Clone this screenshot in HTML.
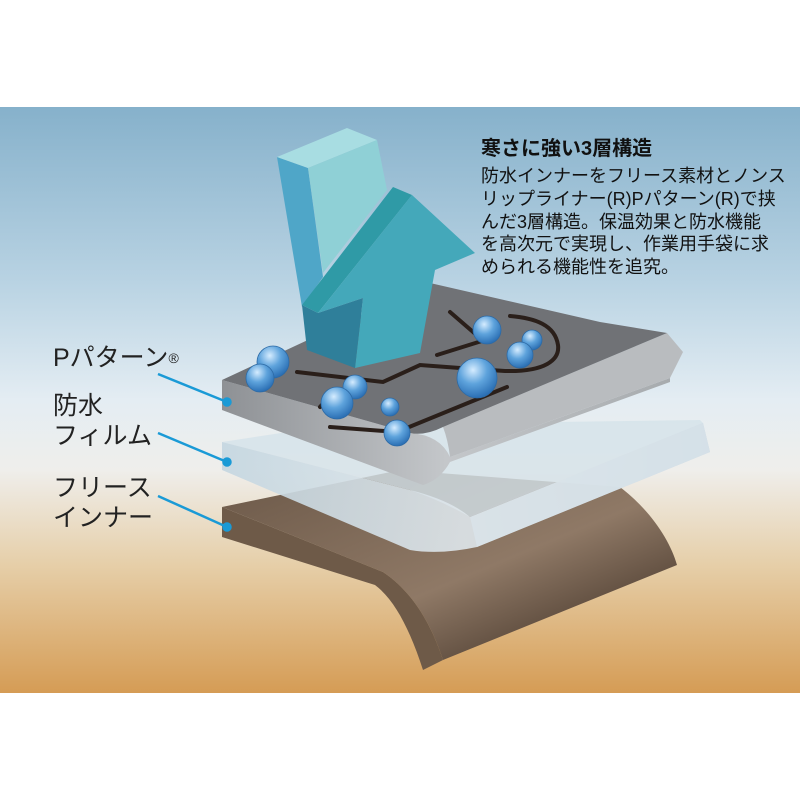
<!DOCTYPE html>
<html><head><meta charset="utf-8"><style>
html,body{margin:0;padding:0;background:#fff;}
body{width:800px;height:800px;position:relative;overflow:hidden;font-family:"Liberation Sans","Noto Sans CJK JP",sans-serif;}
.bg{position:absolute;left:0;top:107px;width:800px;height:586px;background:linear-gradient(to bottom,#86b1cb 0%,#b9d3e3 30%,#e4edf3 50%,#efeeeb 62%,#e6cfa9 78%,#d59c55 100%);}
svg{position:absolute;left:0;top:0;}
.t{position:absolute;color:#111;white-space:nowrap;}
.lab{position:absolute;font-size:25px;color:#222;line-height:30px;white-space:nowrap;}
</style></head><body>
<div class="bg"></div>
<svg width="800" height="800" viewBox="0 0 800 800">
<defs>
<linearGradient id="br" x1="0" y1="0" x2="1" y2="1"><stop offset="0" stop-color="#6b5848"/><stop offset="0.55" stop-color="#8f7966"/><stop offset="1" stop-color="#32241a"/></linearGradient>
<linearGradient id="gr" x1="0" y1="0" x2="1" y2="0"><stop offset="0" stop-color="#8e9195"/><stop offset="0.5" stop-color="#c4c7ca"/><stop offset="1" stop-color="#a7abae"/></linearGradient>
<linearGradient id="fl" x1="0" y1="0" x2="1" y2="0"><stop offset="0" stop-color="#c4d6e0"/><stop offset="0.5" stop-color="#dfe7ec"/><stop offset="1" stop-color="#bcd0dc"/></linearGradient>
<radialGradient id="dr" cx="0.4" cy="0.3" r="0.7"><stop offset="0" stop-color="#d5ecff"/><stop offset="0.5" stop-color="#5ea3dc"/><stop offset="1" stop-color="#2b6fb4"/></radialGradient>
</defs>
<!-- brown fleece -->
<path d="M222,507 L400,470 L620,487 C650,510 670,540 677,565 L443,660 C430,620 410,590 383,572 Z" fill="url(#br)"/>
<path d="M222,507 L383,572 C410,590 430,620 443,660 L423,670 C410,630 395,600 375,585 L222,537 Z" fill="#6e5a48"/>
<!-- film -->
<path d="M222,442 L333,425 L700,420 L703,423 L470,517 Q440,500 410,490 Z" fill="#d4e2ea" opacity="0.8"/>
<path d="M222,442 L410,490 Q450,500 470,517 L703,423 L710,452 L477,547 Q440,555 410,550 L222,470 Z" fill="url(#fl)" opacity="0.9"/>
<path d="M470,517 L703,423 L710,452 L477,547 Z" fill="#d9e4ea" opacity="0.8"/>
<!-- gray layer -->
<path d="M222,380 L410,433 Q440,435 450,457 L670,378 L670,382 L450,462 Q440,480 423,485 L222,410 Z" fill="url(#gr)"/>
<path d="M443,427 L667,333 L683,352 L670,378 L450,457 Q448,440 443,427 Z" fill="#b9bcbf"/>
<path d="M222,380 L430,283 L600,322 L667,333 L443,427 Q425,436 410,433 Z" fill="#707276"/>
<!-- grooves -->
<g fill="none" stroke="#2a1f1a" stroke-width="4" stroke-linecap="round">
<path d="M297,372 L383,382 L420,365 L460,368 L505,371 C545,372 560,360 558,345 C555,325 535,318 510,316"/>
<path d="M450,312 L480,338"/>
<path d="M437,355 L485,340"/>
<path d="M330,427 L397,432 L507,387"/>
<path d="M320,407 L328,398"/>
</g>
<!-- arrow -->
<path d="M277,157 L308,168 L323,277 L302,307 Z" fill="#4fa6c8"/>
<path d="M277,157 L347,128 L377,140 L308,168 Z" fill="#a8dde2"/>
<path d="M308,168 L377,140 L387,190 L323,273 Z" fill="#8fd0d6"/>
<path d="M302,305 L393,187 L412,195 L318,313 Z" fill="#2f9aa6"/>
<path d="M412,195 L475,253 L435,270 L420,353 L355,368 L363,298 L318,313 Z" fill="#44a8ba"/>
<path d="M302,305 L318,313 L363,298 L355,368 L307,350 Z" fill="#2f7f9a"/>
<!-- drops -->
<g fill="url(#dr)" stroke="#2d6aa5" stroke-width="0.8">
<circle cx="273" cy="362" r="16"/><circle cx="260" cy="378" r="14"/>
<circle cx="487" cy="330" r="14"/><circle cx="532" cy="340" r="10"/><circle cx="520" cy="355" r="13"/>
<circle cx="477" cy="378" r="20"/><circle cx="355" cy="387" r="12"/><circle cx="337" cy="403" r="16"/>
<circle cx="390" cy="407" r="9"/><circle cx="397" cy="433" r="13"/>
</g>
<!-- leader lines -->
<g stroke="#1a9ad6" stroke-width="2.5" fill="#1a9ad6">
<line x1="158" y1="374" x2="227" y2="402"/><circle cx="227" cy="402" r="3.5"/>
<line x1="158" y1="433" x2="227" y2="462"/><circle cx="227" cy="462" r="3.5"/>
<line x1="158" y1="496" x2="227" y2="527"/><circle cx="227" cy="527" r="3.5"/>
</g>
</svg>
<div class="lab" style="left:53px;top:343px;">Pパターン<span style="font-size:14px;vertical-align:top;">®</span></div>
<div class="lab" style="left:53px;top:391px;">防水<br>フィルム</div>
<div class="lab" style="left:53px;top:473px;">フリース<br>インナー</div>
<div class="t" style="left:481px;top:132px;font-size:20px;font-weight:bold;">寒さに強い3層構造</div>
<div class="t" style="left:481px;top:165px;font-size:18px;line-height:22.8px;">防水インナーをフリース素材とノンス<br>リップライナー(R)Pパターン(R)で挟<br>んだ3層構造。保温効果と防水機能<br>を高次元で実現し、作業用手袋に求<br>められる機能性を追究。</div>
</body></html>
